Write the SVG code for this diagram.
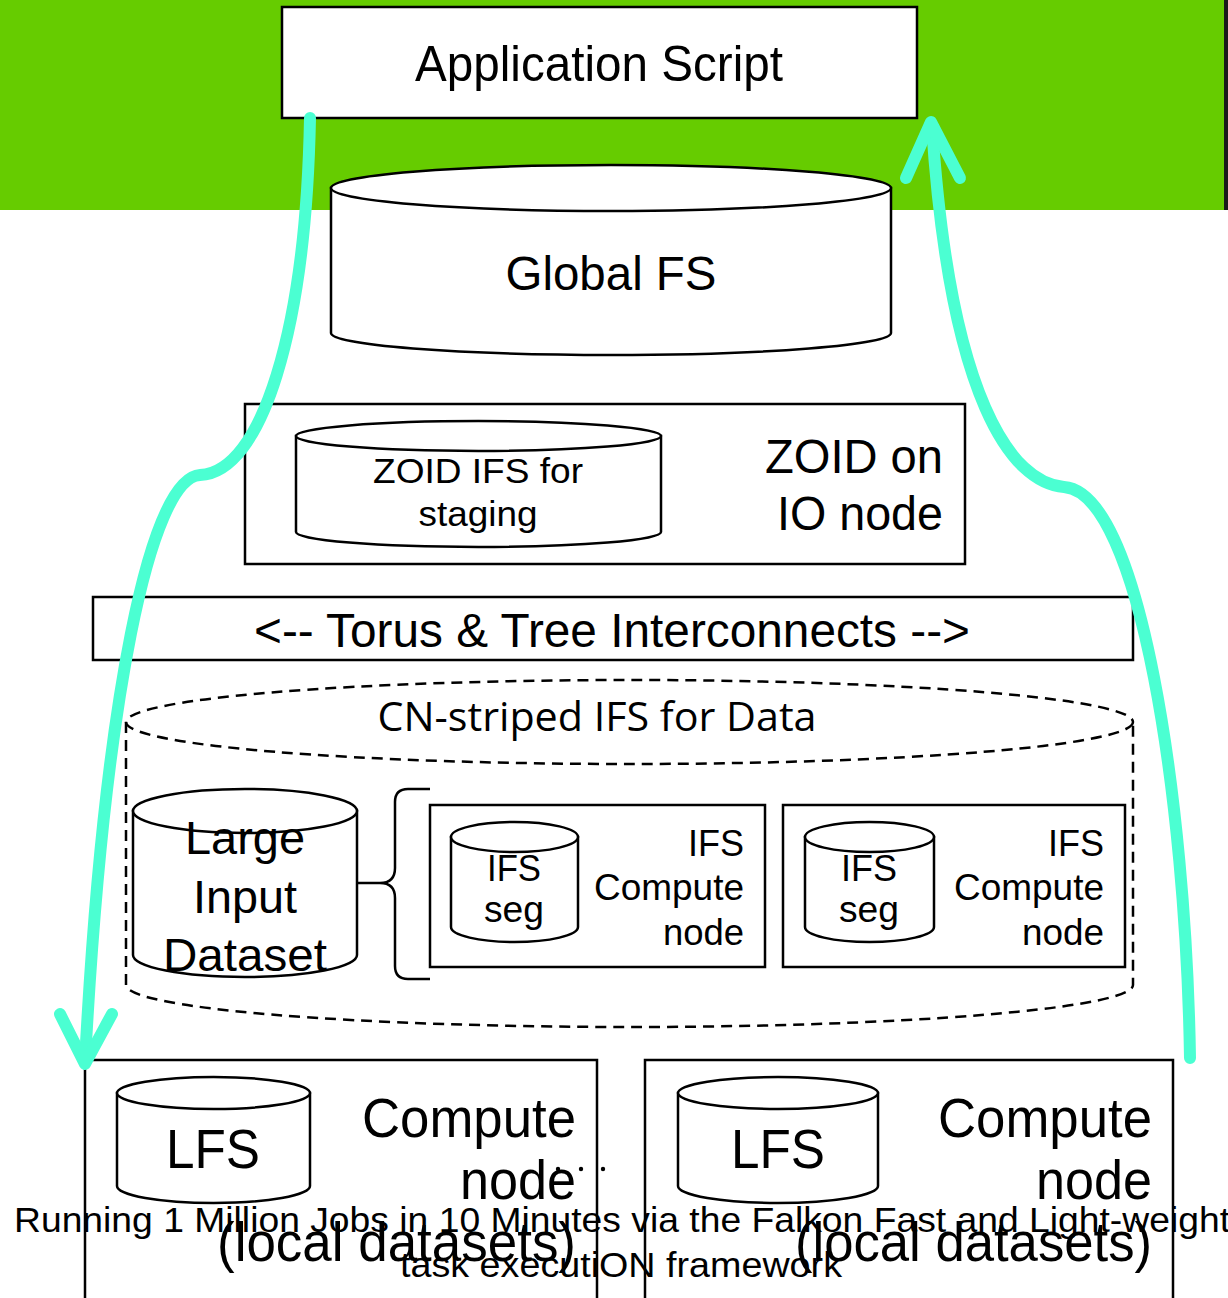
<svg xmlns="http://www.w3.org/2000/svg" width="1228" height="1298" viewBox="0 0 1228 1298">
  <defs>
    <style>
      .box { fill: #ffffff; stroke: #000000; stroke-width: 2.5; }
      .cyl { fill: #ffffff; stroke: #000000; stroke-width: 2.5; }
      .dash { fill: none; stroke: #000000; stroke-width: 2.5; stroke-dasharray: 11 7; }
      .line { fill: none; stroke: #000000; stroke-width: 2.5; }
      .t { font-family: "Liberation Sans", Arial, sans-serif; fill: #000000; }
      .o { font-family: "Open Sans", "Liberation Sans", sans-serif; fill: #000000; }
      .flow { fill: none; stroke: #4bffd2; stroke-width: 12; stroke-linecap: round; stroke-linejoin: round; }
    </style>
  </defs>

  <!-- page background and top band -->
  <rect x="0" y="0" width="1228" height="1298" fill="#ffffff"/>
  <rect x="0" y="0" width="1228" height="210" fill="#66cc00"/>
  <rect x="1224" y="0" width="4" height="210" fill="#1a1a1a"/>

  <!-- Application Script -->
  <g id="app-script">
    <rect class="box" x="282" y="7" width="635" height="111"/>
    <text class="t" x="599" y="81" font-size="50" text-anchor="middle" textLength="368" lengthAdjust="spacingAndGlyphs">Application Script</text>
  </g>

  <!-- Global FS -->
  <g id="global-fs">
    <path class="cyl" d="M331,188 L331,333 A280,22 0 0 0 891,333 L891,188 Z"/>
    <ellipse class="cyl" cx="611" cy="188" rx="280" ry="23"/>
    <text class="t" x="611" y="290" font-size="48" text-anchor="middle" textLength="211" lengthAdjust="spacingAndGlyphs">Global FS</text>
  </g>

  <!-- ZOID on IO node -->
  <g id="zoid-io">
    <rect class="box" x="245" y="404" width="720" height="160"/>
    <path class="cyl" d="M296,436 L296,532 A182.5,15 0 0 0 661,532 L661,436 Z"/>
    <ellipse class="cyl" cx="478.5" cy="436" rx="182.5" ry="15"/>
    <text class="t" x="478" y="483" font-size="35" text-anchor="middle" textLength="210" lengthAdjust="spacingAndGlyphs">ZOID IFS for</text>
    <text class="t" x="478" y="526" font-size="35" text-anchor="middle" textLength="119" lengthAdjust="spacingAndGlyphs">staging</text>
    <text class="t" x="943" y="473" font-size="48" text-anchor="end" textLength="178" lengthAdjust="spacingAndGlyphs">ZOID on</text>
    <text class="t" x="943" y="530" font-size="48" text-anchor="end" textLength="166" lengthAdjust="spacingAndGlyphs">IO node</text>
  </g>

  <!-- Interconnect bar -->
  <g id="interconnects">
    <rect class="box" x="93" y="597" width="1040" height="63"/>
    <text class="t" x="612" y="647" font-size="48" text-anchor="middle" textLength="716" lengthAdjust="spacingAndGlyphs">&lt;-- Torus &amp; Tree Interconnects --&gt;</text>
  </g>

  <!-- CN-striped IFS (dashed cylinder) -->
  <g id="cn-striped-ifs">
    <ellipse class="dash" cx="629.5" cy="722" rx="503.5" ry="42"/>
    <path class="dash" d="M126,722 L126,985 A503.5,42 0 0 0 1133,985 L1133,722"/>
    <text class="o" x="597" y="731" font-size="40" text-anchor="middle" textLength="439" lengthAdjust="spacingAndGlyphs">CN-striped IFS for Data</text>
  </g>

  <!-- Large Input Dataset -->
  <g id="large-input">
    <path class="cyl" d="M133,811 L133,955 A112,22 0 0 0 357,955 L357,811 Z"/>
    <ellipse class="cyl" cx="245" cy="811" rx="112" ry="22"/>
    <text class="t" x="245" y="854" font-size="46" text-anchor="middle" textLength="120" lengthAdjust="spacingAndGlyphs">Large</text>
    <text class="t" x="245" y="913" font-size="46" text-anchor="middle" textLength="104" lengthAdjust="spacingAndGlyphs">Input</text>
    <text class="t" x="245" y="971" font-size="46" text-anchor="middle" textLength="164" lengthAdjust="spacingAndGlyphs">Dataset</text>
  </g>

  <!-- brace grouping the IFS compute nodes -->
  <g id="brace">
    <path class="line" d="M430,789 L408,789 Q395,789 395,802 L395,868 Q395,883 380,883 L358,883 M380,883 Q395,883 395,898 L395,966 Q395,979 408,979 L430,979"/>
  </g>

  <!-- IFS compute node 1 -->
  <g id="ifs-node-1">
    <rect class="box" x="430" y="805" width="335" height="162"/>
    <path class="cyl" d="M451,837 L451,927 A63.5,15 0 0 0 578,927 L578,837 Z"/>
    <ellipse class="cyl" cx="514.5" cy="837" rx="63.5" ry="15"/>
    <text class="t" x="514" y="881" font-size="37" text-anchor="middle" textLength="54" lengthAdjust="spacingAndGlyphs">IFS</text>
    <text class="t" x="514" y="922" font-size="37" text-anchor="middle" textLength="60" lengthAdjust="spacingAndGlyphs">seg</text>
    <text class="t" x="744" y="856" font-size="37" text-anchor="end" textLength="56" lengthAdjust="spacingAndGlyphs">IFS</text>
    <text class="t" x="744" y="900" font-size="37" text-anchor="end" textLength="150" lengthAdjust="spacingAndGlyphs">Compute</text>
    <text class="t" x="744" y="945" font-size="37" text-anchor="end" textLength="81" lengthAdjust="spacingAndGlyphs">node</text>
  </g>

  <!-- IFS compute node 2 -->
  <g id="ifs-node-2">
    <rect class="box" x="783" y="805" width="342" height="162"/>
    <path class="cyl" d="M805,837 L805,927 A64.5,15 0 0 0 934,927 L934,837 Z"/>
    <ellipse class="cyl" cx="869.5" cy="837" rx="64.5" ry="15"/>
    <text class="t" x="869" y="881" font-size="37" text-anchor="middle" textLength="56" lengthAdjust="spacingAndGlyphs">IFS</text>
    <text class="t" x="869" y="922" font-size="37" text-anchor="middle" textLength="60" lengthAdjust="spacingAndGlyphs">seg</text>
    <text class="t" x="1104" y="856" font-size="37" text-anchor="end" textLength="56" lengthAdjust="spacingAndGlyphs">IFS</text>
    <text class="t" x="1104" y="900" font-size="37" text-anchor="end" textLength="150" lengthAdjust="spacingAndGlyphs">Compute</text>
    <text class="t" x="1104" y="945" font-size="37" text-anchor="end" textLength="82" lengthAdjust="spacingAndGlyphs">node</text>
  </g>

  <!-- ellipsis between compute nodes -->
  <g id="ellipsis">
    <circle cx="558" cy="1169" r="2.2" fill="#000"/>
    <circle cx="581" cy="1169" r="2.2" fill="#000"/>
    <circle cx="603" cy="1169" r="2.2" fill="#000"/>
  </g>

  <!-- Compute node 1 -->
  <g id="compute-node-1">
    <path class="line" d="M85,1300 L85,1060 L597,1060 L597,1300"/>
    <path class="cyl" d="M117,1093 L117,1186 A96.5,17 0 0 0 310,1186 L310,1093 Z"/>
    <ellipse class="cyl" cx="213.5" cy="1093" rx="96.5" ry="16"/>
    <text class="t" x="213" y="1168" font-size="56" text-anchor="middle" textLength="94" lengthAdjust="spacingAndGlyphs">LFS</text>
    <text class="t" x="576" y="1137" font-size="56" text-anchor="end" textLength="214" lengthAdjust="spacingAndGlyphs">Compute</text>
    <text class="t" x="576" y="1199" font-size="56" text-anchor="end" textLength="116" lengthAdjust="spacingAndGlyphs">node</text>
    <text class="t" x="576" y="1261" font-size="56" text-anchor="end" textLength="359" lengthAdjust="spacingAndGlyphs">(local datasets)</text>
  </g>

  <!-- Compute node 2 -->
  <g id="compute-node-2">
    <path class="line" d="M645,1300 L645,1060 L1173,1060 L1173,1300"/>
    <path class="cyl" d="M678,1093 L678,1186 A100,17 0 0 0 878,1186 L878,1093 Z"/>
    <ellipse class="cyl" cx="778" cy="1093" rx="100" ry="16"/>
    <text class="t" x="778" y="1168" font-size="56" text-anchor="middle" textLength="94" lengthAdjust="spacingAndGlyphs">LFS</text>
    <text class="t" x="1152" y="1137" font-size="56" text-anchor="end" textLength="214" lengthAdjust="spacingAndGlyphs">Compute</text>
    <text class="t" x="1152" y="1199" font-size="56" text-anchor="end" textLength="116" lengthAdjust="spacingAndGlyphs">node</text>
    <text class="t" x="1152" y="1261" font-size="56" text-anchor="end" textLength="357" lengthAdjust="spacingAndGlyphs">(local datasets)</text>
  </g>

  <!-- caption -->
  <g id="caption">
    <text class="t" x="14" y="1232" font-size="35" textLength="1216" lengthAdjust="spacingAndGlyphs">Running 1 Million Jobs in 10 Minutes via the Falkon Fast and Light-weight</text>
    <text class="t" x="621" y="1277" font-size="35" text-anchor="middle" textLength="442" lengthAdjust="spacingAndGlyphs">task executiON framework</text>
  </g>

  <!-- data flow connectors -->
  <g id="connectors">
    <path class="flow" d="M310,118 C306,330 262,472 200,475 C150,478 104,700 85,1062" stroke-linecap="butt"/>
    <path class="flow" d="M60,1014 L85,1064 L112,1014"/>
    <path class="flow" d="M1190,1058 C1186,800 1140,492 1064,487 C1012,483 950,400 932,126" stroke-linecap="butt"/>
    <path class="flow" d="M906,178 L931,122 L960,178"/>
  </g>
</svg>
